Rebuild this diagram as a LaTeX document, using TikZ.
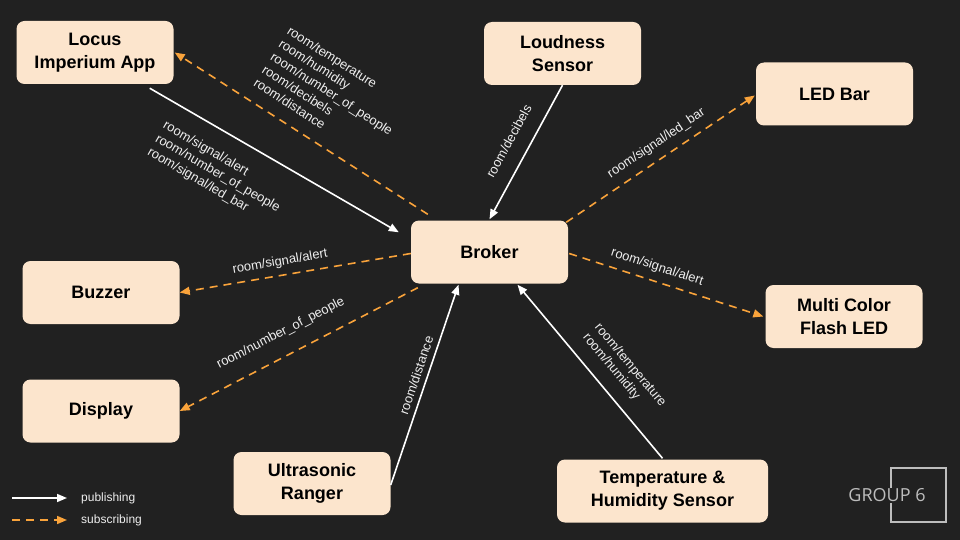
\documentclass[tikz,border=0pt]{standalone}
\usepackage{fontspec}
\setmainfont{Liberation Sans}
\newfontfamily\groupfont{Open Sans}
\usetikzlibrary{arrows.meta}

\definecolor{bgdark}{HTML}{212121}
\definecolor{boxfill}{HTML}{FCE5CD}
\definecolor{suborange}{HTML}{F9A33B}
\definecolor{topictext}{HTML}{EEEEEE}
\definecolor{groupgray}{HTML}{BDBDBD}

\begin{document}
\begin{tikzpicture}[x=1pt,y=-1pt,
    device/.style={rectangle, rounded corners=8pt, fill=boxfill, text=black,
        minimum width=157pt, minimum height=63pt, align=center, inner sep=2pt,
        font=\fontsize{18}{23}\selectfont\bfseries},
    pub/.style={draw=white, line width=1.6pt, -{Triangle[length=10pt,width=8pt]}},
    sub/.style={draw=suborange, line width=1.6pt, dash pattern=on 8pt off 6pt,
        -{Triangle[length=10pt,width=8pt]}},
    topic/.style={text=topictext, font=\fontsize{13}{15.5}\selectfont, align=left,
        inner sep=0pt, sloped, anchor=center},
    legendtext/.style={text=topictext, font=\fontsize{12}{14}\selectfont,
        inner sep=0pt, anchor=west},
]
\fill[bgdark] (0,0) rectangle (960,540);

% devices
\node[device] (app) at (95,52.5) {Locus\\Imperium App};
\node[device] (loudness) at (562.5,53.5) {Loudness\\Sensor};
\node[device] (ledbar) at (834.5,94) {LED Bar};
\node[device] (broker) at (489.5,252) {Broker};
\node[device] (buzzer) at (101,292.5) {Buzzer};
\node[device] (display) at (101,411) {Display};
\node[device] (flashled) at (844,316.5) {Multi Color\\Flash LED};
\node[device] (ranger) at (312,483.5) {Ultrasonic\\Ranger};
\node[device, minimum width=211pt] (temphum) at (662.5,491) {Temperature \&\\Humidity Sensor};

% publishing
\draw[pub] ([xshift=-24pt,yshift=-4pt]app.south east) -- ([xshift=-12pt,yshift=-12pt]broker.north west)
    node[topic, pos=0.353, yshift=-40pt] {room/signal/alert\\room/number\_of\_people\\room/signal/led\_bar};
\draw[pub] (loudness.south) -- ([yshift=1pt]broker.north)
    node[topic, pos=0.49, yshift=20.5pt] {room/decibels};
\draw[pub] ([yshift=-1.5pt]ranger.east) -- ([xshift=-31pt,yshift=-1pt]broker.south)
    node[topic, pos=0.53, yshift=11pt] {room/distance};
\draw[pub] ([yshift=1pt]temphum.north) -- ([xshift=28pt,yshift=-1pt]broker.south)
    node[topic, pos=0.407, yshift=27pt] {room/temperature\\room/humidity};

% subscribing
\draw[sub] ([xshift=17pt,yshift=6pt]broker.north west) -- ([xshift=1pt]app.east)
    node[topic, pos=0.486, yshift=50pt] {room/temperature\\room/humidity\\room/number\_of\_people\\room/decibels\\room/distance};
\draw[sub] ([xshift=-2pt,yshift=-2pt]broker.north east) -- ([xshift=-1pt,yshift=-1.5pt]ledbar.west)
    node[topic, pos=0.523, yshift=15pt] {room/signal/led\_bar};
\draw[sub] ([xshift=1pt,yshift=-1.5pt]broker.east) -- ([xshift=-2pt]flashled.west)
    node[topic, pos=0.431, yshift=14pt] {room/signal/alert};
\draw[sub] ([yshift=-1.5pt]broker.west) -- (buzzer.east)
    node[topic, pos=0.556, yshift=13.3pt] {room/signal/alert};
\draw[sub] ([xshift=7pt,yshift=-4pt]broker.south west) -- (display.east)
    node[topic, pos=0.532, yshift=22.5pt] {room/number\_of\_people};

% legend
\coordinate (pubstart) at (12,498);
\coordinate (substart) at (12,520);
\node[legendtext] (pubtext) at (81,498) {publishing};
\node[legendtext] (subtext) at (81,520) {subscribing};
\draw[pub] (pubstart) -- ([xshift=-14pt]pubtext.west);
\draw[sub] (substart) -- ([xshift=-14pt]subtext.west);

% group mark
\node[draw=groupgray, line width=1.3pt, minimum width=55pt, minimum height=54pt, inner sep=0pt] (groupbox) at (918.5,495) {};
\node[fill=bgdark, text=groupgray, inner xsep=0pt, inner ysep=1pt,
    font=\groupfont\fontsize{18}{20}\selectfont] (grouplabel) at (887,495.5) {GROUP 6};
\end{tikzpicture}
\end{document}
